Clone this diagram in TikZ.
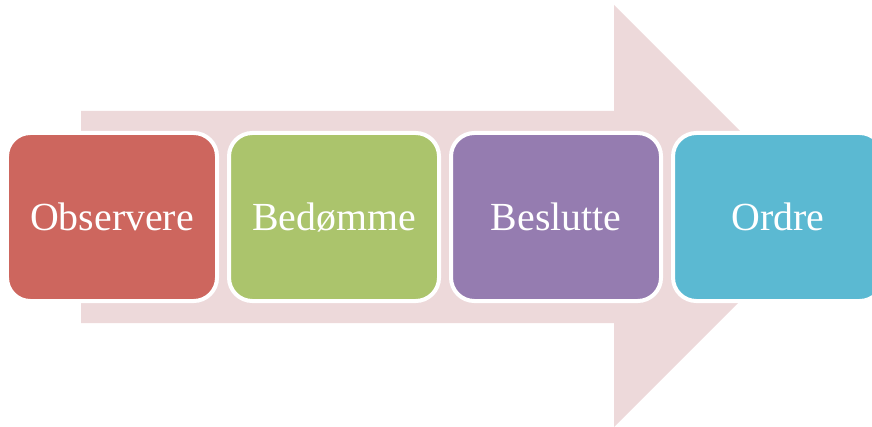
\documentclass[tikz,border=0pt]{standalone}
\usepackage{fontspec}
\setmainfont{Liberation Serif}
\usetikzlibrary{positioning}
\definecolor{arrowpink}{RGB}{237,217,218}
\definecolor{obsred}{RGB}{205,102,94}
\definecolor{bedgreen}{RGB}{171,196,108}
\definecolor{beslilla}{RGB}{149,124,176}
\definecolor{ordcyan}{RGB}{91,185,210}
\tikzset{
  stage/.style={rounded corners=.7cm, draw=white, line width=.12cm,
    outer sep=0pt, minimum width=6.3cm, minimum height=5.04cm,
    text=white, font=\fontsize{34}{40}\selectfont}
}
\begin{document}
\begin{tikzpicture}[x=.03cm,y=-.03cm]
\useasboundingbox (0,0) rectangle (872,427);
% big arrow behind
\fill[arrowpink] (81,111) -- (614,111) -- (614,5) -- (825,216)
  -- (614,427) -- (614,323) -- (81,323) -- cycle;

\node[stage, fill=obsred] (obs) at (112,217) {Observere};
\node[stage, fill=bedgreen, right=.36cm of obs] (bed) {Bedømme};
\node[stage, fill=beslilla, right=.36cm of bed] (bes) {Beslutte};
\node[stage, fill=ordcyan, right=.36cm of bes] (ord) {Ordre};
\end{tikzpicture}
\end{document}
